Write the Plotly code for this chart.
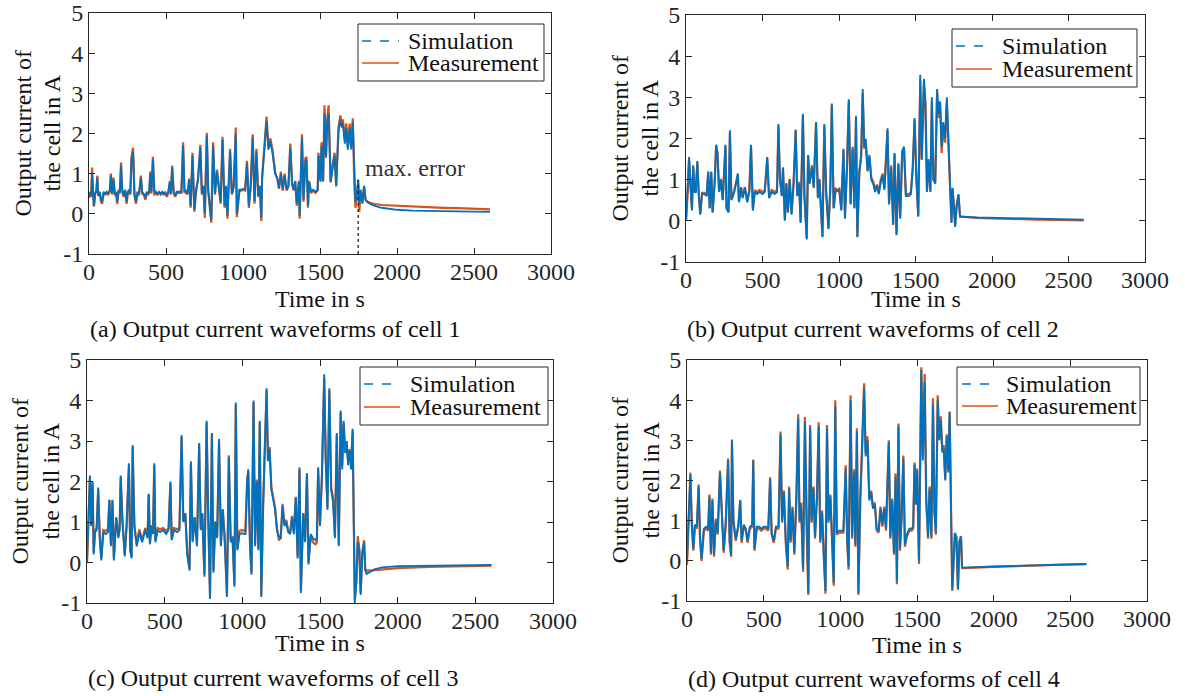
import plotly.graph_objects as go

# ---------------- data ----------------
# Cell 1
t1 = [0, 8, 14, 20, 26, 32, 40, 48, 54, 60,
      70, 78, 85, 95, 105, 115, 125, 135, 142, 150,
      159, 168, 176, 183, 192, 200, 208, 216, 225, 235,
      244, 252, 260, 268, 276, 286, 295, 305, 315, 325,
      337, 345, 355, 366, 375, 385, 392, 398, 405, 415,
      425, 435, 445, 455, 465, 475, 485, 495, 505, 515,
      525, 532, 540, 550, 560, 570, 580, 590, 600, 611,
      620, 628, 635, 642, 650, 660, 672, 684, 696, 708,
      723, 733, 743, 752, 765, 774, 782, 794, 806, 818,
      831, 843, 855, 867, 880, 890, 899, 916, 928, 940,
      953, 960, 977, 990, 1002, 1014, 1026, 1038, 1050, 1063,
      1075, 1087, 1099, 1109, 1119, 1124, 1136, 1153, 1165, 1178,
      1192, 1209, 1222, 1234, 1246, 1258, 1270, 1283, 1295, 1307,
      1319, 1329, 1339, 1349, 1363, 1368, 1383, 1393, 1405, 1412,
      1422, 1429, 1442, 1455, 1470, 1485, 1490, 1503, 1510, 1520,
      1529, 1539, 1547, 1556, 1569, 1576, 1583, 1595, 1605, 1620,
      1632, 1642, 1649, 1661, 1671, 1681, 1693, 1703, 1713, 1722,
      1730, 1740, 1748, 1755, 1764, 1776, 1786, 1796, 1810, 1830,
      1860, 1900, 1950, 2000, 2100, 2200, 2300, 2400, 2500, 2604]
sim1 = [0.40, 0.55, 0.45, 1.00, 0.60, 0.20, 0.50, 0.60, 0.90, 0.45,
        0.55, 0.35, 0.30, 0.55, 0.50, 0.55, 0.50, 0.60, 0.95, 0.50,
        0.85, 0.50, 0.55, 0.30, 0.60, 0.55, 1.20, 0.60, 0.45, 0.60,
        0.30, 0.55, 0.60, 0.50, 1.35, 1.55, 0.50, 0.30, 0.55, 0.50,
        0.90, 0.55, 0.50, 0.40, 0.55, 0.50, 0.60, 1.00, 0.55, 1.35,
        0.50, 0.55, 0.50, 0.55, 0.50, 0.55, 0.50, 0.55, 0.45, 0.55,
        0.78, 0.50, 1.15, 0.55, 0.45, 0.55, 0.55, 0.55, 0.55, 1.70,
        0.55, 0.60, 0.50, 0.55, 0.85, 0.20, 1.45, 0.10, 0.60, 0.85,
        1.65, 0.50, 0.70, 0.00, 1.95, 0.60, 0.30, -0.15, 1.70, 0.50,
        1.05, 0.60, 0.30, 1.85, 0.20, 0.70, -0.05, 1.55, 0.50, 0.70,
        2.00, 0.00, 0.60, 0.60, 0.62, 0.60, 1.25, 0.20, 0.70, 1.90,
        0.30, 1.55, 0.45, 0.70, -0.10, 0.90, 1.55, 2.30, 1.60, 1.80,
        1.50, 1.00, 0.90, 0.65, 1.00, 0.60, 0.95, 0.60, 0.70, 1.65,
        0.75, 0.60, 0.80, 0.25, 0.80, -0.05, 1.90, 0.35, 1.30, 1.35,
        0.20, 0.80, 0.55, 0.60, 0.55, 0.60, 1.45, 0.80, 1.70, 0.80,
        2.50, 1.40, 2.25, 2.50, 0.80, 1.00, 1.20, 1.45, 0.70, 2.05,
        2.35, 2.15, 2.25, 1.75, 2.15, 1.60, 2.15, 1.60, 2.30, 0.90,
        0.30, 0.50, 0.85, 0.25, 0.60, 0.25, 0.70, 0.35, 0.28, 0.24,
        0.19, 0.15, 0.12, 0.10, 0.08, 0.07, 0.065, 0.06, 0.055, 0.05]
meas1 = [0.45, 0.50, 0.42, 1.15, 0.55, 0.18, 0.50, 0.55, 0.95, 0.45,
         0.50, 0.30, 0.25, 0.50, 0.48, 0.50, 0.48, 0.55, 1.00, 0.48,
         0.90, 0.45, 0.50, 0.25, 0.55, 0.50, 1.28, 0.55, 0.42, 0.55,
         0.25, 0.50, 0.55, 0.48, 1.42, 1.65, 0.48, 0.25, 0.50, 0.48,
         0.95, 0.50, 0.48, 0.35, 0.50, 0.48, 0.55, 1.05, 0.50, 1.42,
         0.48, 0.50, 0.48, 0.52, 0.48, 0.52, 0.48, 0.52, 0.42, 0.52,
         0.82, 0.48, 1.20, 0.52, 0.42, 0.52, 0.52, 0.52, 0.52, 1.78,
         0.52, 0.58, 0.48, 0.52, 0.88, 0.15, 1.52, 0.05, 0.58, 0.88,
         1.72, 0.48, 0.68, -0.10, 2.02, 0.58, 0.25, -0.22, 1.78, 0.48,
         1.10, 0.58, 0.25, 1.92, 0.15, 0.68, -0.12, 1.62, 0.48, 0.68,
         2.15, -0.08, 0.58, 0.58, 0.60, 0.58, 1.32, 0.15, 0.68, 1.98,
         0.25, 1.62, 0.42, 0.68, -0.18, 0.88, 1.62, 2.42, 1.68, 1.88,
         1.58, 1.02, 0.88, 0.62, 1.05, 0.58, 1.00, 0.58, 0.68, 1.75,
         0.72, 0.58, 0.82, 0.20, 0.82, -0.12, 1.98, 0.30, 1.38, 1.42,
         0.15, 0.82, 0.52, 0.58, 0.52, 0.58, 1.52, 0.82, 1.78, 0.82,
         2.70, 1.45, 2.35, 2.70, 0.78, 1.05, 1.25, 1.52, 0.68, 2.15,
         2.45, 2.25, 2.35, 1.85, 2.25, 1.65, 2.25, 1.65, 2.38, 0.85,
         0.15, 0.45, 0.80, 0.05, 0.55, 0.30, 0.68, 0.35, 0.30, 0.27,
         0.24, 0.22, 0.21, 0.20, 0.18, 0.17, 0.15, 0.14, 0.125, 0.11]

# Cell 2
t2 = [0, 12, 20, 32, 39, 47, 56, 64, 74, 84,
      93, 105, 120, 135, 145, 155, 165, 174, 187, 197,
      206, 216, 228, 240, 258, 265, 278, 287, 297, 315,
      339, 346, 360, 370, 385, 400, 414, 425, 437, 450,
      465, 480, 500, 515, 531, 543, 560, 580, 595, 604,
      614, 627, 634, 646, 656, 666, 678, 690, 703, 717,
      727, 739, 749, 764, 774, 789, 798, 808, 823, 835,
      850, 862, 872, 892, 904, 916, 931, 943, 953, 965,
      978, 990, 1002, 1015, 1029, 1039, 1052, 1064, 1076, 1089,
      1101, 1111, 1120, 1133, 1145, 1155, 1165, 1174, 1187, 1199,
      1211, 1224, 1236, 1248, 1260, 1273, 1285, 1297, 1317, 1327,
      1341, 1354, 1363, 1376, 1388, 1400, 1413, 1425, 1437, 1455,
      1470, 1482, 1494, 1506, 1518, 1531, 1541, 1555, 1565, 1575,
      1585, 1597, 1607, 1617, 1629, 1641, 1651, 1661, 1671, 1681,
      1693, 1705, 1715, 1727, 1735, 1742, 1751, 1759, 1769, 1781,
      1791, 1800, 1900, 2000, 2150, 2300, 2450, 2600]
sim2 = [0.00, 0.75, 1.55, 0.65, 0.25, 1.35, 0.70, 0.70, 1.45, 0.60,
        0.15, 0.65, 0.65, 0.60, 1.20, 0.30, 1.20, 0.20, 0.90, 1.85,
        1.65, 0.70, 1.00, 0.50, 1.85, 0.30, 0.20, 2.20, 0.50, 0.70,
        1.15, 0.45, 0.80, 0.55, 0.80, 0.45, 0.70, 1.85, 0.25, 0.70,
        0.65, 0.70, 0.65, 0.70, 1.55, 0.55, 0.70, 0.65, 0.70, 2.35,
        1.00, 0.60, 1.30, 0.00, 0.90, 0.20, 1.00, 0.15, 0.90, 2.20,
        0.60, 0.90, -0.05, 2.60, 0.60, -0.45, 1.60, 0.90, 1.30, 0.80,
        2.40, 0.55, 1.00, -0.40, 2.35, 0.70, -0.20, 0.75, 2.85, 0.30,
        0.75, 0.72, 0.75, 0.25, 1.75, 0.05, 1.30, 2.95, 0.40, 1.80,
        0.30, 2.55, -0.40, 1.20, 1.60, 3.20, 1.80, 2.00, 1.20, 1.60,
        1.00, 0.90, 0.70, 0.85, 0.65, 0.95, 1.10, 0.75, 2.25, 0.40,
        1.30, -0.10, 1.65, -0.35, 1.40, 0.05, 1.70, 1.80, 0.60, 0.60,
        0.65, 1.30, 2.50, 1.00, 0.10, 3.55, 1.50, 3.45, 2.90, 0.70,
        1.50, 0.70, 3.00, 1.00, 0.90, 3.20, 2.60, 2.90, 1.80, 2.40,
        2.00, 3.00, 2.00, 0.60, -0.05, 0.80, 0.40, -0.15, 0.35, 0.65,
        0.10, 0.10, 0.08, 0.07, 0.06, 0.05, 0.04, 0.03]
meas2 = [0.00, 0.72, 1.52, 0.68, 0.28, 1.32, 0.72, 0.72, 1.42, 0.62,
         0.18, 0.68, 0.68, 0.62, 1.18, 0.32, 1.18, 0.22, 0.92, 1.82,
         1.62, 0.72, 1.02, 0.52, 1.82, 0.32, 0.22, 2.15, 0.52, 0.72,
         1.12, 0.48, 0.82, 0.58, 0.82, 0.48, 0.75, 1.82, 0.28, 0.75,
         0.70, 0.75, 0.70, 0.75, 1.52, 0.58, 0.75, 0.70, 0.75, 2.30,
         1.02, 0.62, 1.28, 0.02, 0.92, 0.22, 1.02, 0.18, 0.92, 2.22,
         0.62, 0.95, -0.02, 2.55, 0.62, -0.42, 1.58, 0.92, 1.35, 0.82,
         2.40, 0.58, 1.02, -0.38, 2.30, 0.72, -0.18, 0.78, 2.80, 0.32,
         0.78, 0.75, 0.78, 0.28, 1.72, 0.08, 1.28, 2.90, 0.42, 1.75,
         0.32, 2.50, -0.38, 1.18, 1.55, 3.10, 1.75, 1.95, 1.22, 1.55,
         1.05, 0.95, 0.75, 0.88, 0.70, 1.00, 1.15, 0.80, 2.20, 0.42,
         1.35, -0.08, 1.62, -0.32, 1.38, 0.08, 1.65, 1.75, 0.65, 0.65,
         0.70, 1.28, 2.45, 1.02, 0.12, 3.40, 1.48, 3.30, 2.80, 0.72,
         1.45, 0.72, 2.90, 1.02, 0.92, 3.10, 2.50, 2.80, 1.65, 2.25,
         1.90, 2.85, 1.95, 0.62, -0.02, 0.78, 0.42, -0.12, 0.38, 0.62,
         0.12, 0.10, 0.07, 0.06, 0.04, 0.03, 0.02, 0.01]

# Cell 3
t3 = [0, 10, 19, 27, 36, 43, 52, 62, 72, 82,
      92, 105, 120, 135, 144, 154, 164, 173, 188, 202,
      210, 217, 228, 243, 255, 270, 278, 287, 294, 305,
      320, 337, 355, 375, 390, 397, 405, 417, 425, 433,
      440, 455, 470, 490, 510, 525, 537, 545, 560, 580,
      595, 609, 620, 633, 645, 660, 669, 680, 693, 708,
      722, 732, 742, 756, 770, 780, 792, 804, 814, 826,
      838, 850, 862, 874, 886, 901, 913, 925, 937, 949,
      958, 968, 982, 995, 1008, 1020, 1031, 1038, 1050, 1059,
      1072, 1082, 1093, 1103, 1112, 1122, 1134, 1146, 1156, 1165,
      1175, 1187, 1199, 1211, 1223, 1235, 1247, 1259, 1271, 1283,
      1295, 1308, 1320, 1332, 1344, 1356, 1368, 1377, 1392, 1404,
      1416, 1426, 1440, 1455, 1470, 1480, 1488, 1500, 1512, 1527,
      1537, 1548, 1560, 1572, 1584, 1596, 1608, 1621, 1633, 1643,
      1652, 1662, 1671, 1681, 1690, 1700, 1710, 1717, 1724, 1734,
      1743, 1753, 1762, 1772, 1784, 1791, 1800, 1850, 1900, 2000,
      2200, 2400, 2604]
sim3 = [0.00, 1.05, 2.15, 0.90, 2.00, 0.20, 0.75, 0.80, 1.85, 0.60,
        0.05, 0.75, 0.70, 0.75, 1.55, 0.40, 1.55, 0.05, 1.10, 0.60,
        0.80, 2.15, 1.00, 0.15, 0.90, 2.45, 0.30, 0.10, 2.90, 0.90,
        0.40, 0.75, 0.50, 0.80, 0.60, 1.70, 0.45, 0.90, 0.70, 2.45,
        0.50, 0.80, 0.75, 0.80, 0.70, 0.80, 2.00, 0.55, 0.80, 0.75,
        0.80, 3.15, 1.00, 1.20, 0.20, -0.20, 2.50, 0.50, 1.10, 0.40,
        2.95, 0.80, 1.20, -0.35, 3.50, 1.20, -0.90, 3.20, -0.25, 1.00,
        0.60, 3.05, 0.40, 1.30, 0.60, -0.85, 2.60, 0.50, 0.60, -0.60,
        3.95, 0.30, 0.70, 0.72, 0.70, 0.70, 2.00, 2.30, 0.35, -0.30,
        4.00, 0.40, 2.00, 0.30, 3.50, -0.85, 1.40, 2.70, 4.30, 2.50,
        2.80, 1.80, 1.50, 1.30, 0.80, 0.65, 0.60, 1.40, 0.90, 1.00,
        0.75, 0.70, 1.10, 0.70, 1.60, 0.10, 2.35, -0.75, 1.20, 0.50,
        2.20, -0.05, 0.70, 0.60, 0.55, 0.60, 2.35, 0.90, 2.10, 4.65,
        2.50, 1.30, 4.30, 1.80, 1.50, 0.60, 3.20, 0.40, 3.75, 2.30,
        3.50, 2.70, 3.00, 2.40, 2.80, 2.30, 3.30, 0.50, -1.00, -0.50,
        0.50, 0.30, -0.80, 0.20, 0.50, -0.20, -0.28, -0.17, -0.12, -0.09,
        -0.08, -0.07, -0.06]
meas3 = [0.00, 0.95, 2.10, 0.92, 1.95, 0.25, 0.80, 0.85, 1.80, 0.65,
         0.10, 0.80, 0.78, 0.82, 1.55, 0.45, 1.52, 0.10, 1.12, 0.65,
         0.85, 2.10, 1.05, 0.20, 0.92, 2.40, 0.35, 0.15, 2.85, 0.92,
         0.45, 0.82, 0.55, 0.85, 0.65, 1.68, 0.50, 0.92, 0.78, 2.40,
         0.55, 0.85, 0.82, 0.85, 0.78, 0.85, 1.95, 0.60, 0.85, 0.82,
         0.85, 3.10, 1.02, 1.22, 0.25, -0.15, 2.45, 0.55, 1.12, 0.45,
         2.90, 0.85, 1.22, -0.30, 3.45, 1.22, -0.82, 3.18, -0.20, 1.02,
         0.65, 3.00, 0.45, 1.32, 0.65, -0.80, 2.65, 0.55, 0.65, -0.55,
         3.90, 0.35, 0.78, 0.80, 0.78, 0.78, 2.05, 2.25, 0.40, -0.25,
         3.95, 0.45, 2.05, 0.35, 3.45, -0.80, 1.42, 2.75, 4.25, 2.55,
         2.85, 1.85, 1.55, 1.35, 0.85, 0.55, 0.60, 1.45, 0.95, 1.05,
         0.80, 0.75, 1.15, 0.75, 1.62, 0.15, 2.30, -0.70, 1.22, 0.55,
         2.20, 0.00, 0.65, 0.50, 0.45, 0.50, 2.30, 0.95, 2.05, 4.55,
         2.55, 1.35, 4.25, 1.85, 1.60, 0.65, 3.15, 0.45, 3.70, 2.40,
         3.45, 2.75, 3.00, 2.50, 2.75, 2.40, 3.25, 0.60, -0.90, -0.45,
         0.65, 0.35, -0.75, 0.25, 0.55, -0.15, -0.20, -0.19, -0.17, -0.14,
         -0.11, -0.10, -0.08]

# Cell 4
t4 = [0, 10, 22, 31, 41, 52, 64, 76, 85, 95,
      110, 125, 138, 146, 156, 166, 176, 188, 200, 215,
      225, 239, 252, 268, 278, 288, 293, 303, 318, 335,
      347, 356, 370, 384, 395, 410, 425, 432, 440, 455,
      470, 485, 500, 515, 530, 542, 552, 566, 580, 597,
      610, 620, 632, 644, 657, 666, 676, 688, 700, 713,
      725, 734, 744, 757, 769, 779, 791, 803, 813, 825,
      835, 847, 859, 869, 881, 893, 903, 913, 923, 935,
      945, 957, 967, 977, 990, 1005, 1020, 1035, 1045, 1054,
      1067, 1077, 1089, 1098, 1108, 1118, 1130, 1142, 1155, 1165,
      1177, 1189, 1201, 1213, 1225, 1237, 1250, 1262, 1274, 1286,
      1298, 1316, 1326, 1338, 1350, 1360, 1369, 1379, 1389, 1399,
      1411, 1421, 1433, 1450, 1465, 1475, 1484, 1492, 1501, 1513,
      1528, 1538, 1550, 1560, 1572, 1582, 1594, 1604, 1614, 1623,
      1635, 1645, 1655, 1665, 1674, 1684, 1694, 1704, 1713, 1723,
      1730, 1740, 1747, 1757, 1767, 1777, 1787, 1794, 1800, 2000,
      2200, 2400, 2604]
sim4 = [0.00, 1.10, 2.15, 1.00, 0.30, 0.90, 0.85, 1.85, 0.60, 0.05,
        0.80, 0.85, 0.80, 1.60, 0.20, 1.50, 0.15, 1.00, 0.70, 2.20,
        1.20, 0.25, 0.90, 2.50, 0.50, 0.15, 3.00, 1.00, 0.55, 0.90,
        1.50, 0.50, 0.90, 0.80, 0.50, 0.85, 0.90, 2.50, 0.30, 0.85,
        0.85, 0.80, 0.85, 0.85, 0.80, 2.05, 0.70, 0.50, 0.85, 0.85,
        3.15, 1.00, 1.70, 0.50, -0.15, 1.80, 0.50, 1.30, 0.20, 1.50,
        3.55, 1.00, 1.40, -0.20, 3.45, 1.00, -0.80, 3.30, 1.00, 1.80,
        0.60, 1.50, 3.35, 0.50, 1.20, 0.00, -0.75, 3.30, 1.00, 1.60,
        0.50, -0.55, 3.85, 0.70, 0.75, 0.75, 0.75, 2.30, 0.50, -0.15,
        4.00, 0.60, 2.20, 0.40, 3.20, -0.80, 1.50, 2.80, 4.30, 2.60,
        3.00, 1.50, 1.70, 1.30, 1.40, 0.80, 0.75, 1.30, 0.90, 1.30,
        0.80, 2.95, 0.60, 1.50, 0.20, 2.10, -0.50, 3.35, 0.30, 1.00,
        2.55, 0.40, 0.65, 0.80, 0.80, 0.85, 2.40, 1.40, 2.25, 0.00,
        4.75, 2.50, 4.45, 1.50, 0.60, 1.80, 0.60, 3.90, 1.20, 0.70,
        4.00, 3.00, 3.50, 2.70, 2.80, 2.00, 3.10, 2.20, 3.70, 1.00,
        -0.70, 0.10, 0.70, 0.60, -0.70, 0.50, 0.60, -0.15, -0.17, -0.14,
        -0.12, -0.10, -0.08]
meas4 = [-0.10, 1.15, 2.20, 0.95, 0.25, 0.88, 0.80, 1.90, 0.55, 0.00,
         0.75, 0.80, 0.75, 1.65, 0.15, 1.55, 0.10, 1.05, 0.65, 2.25,
         1.25, 0.20, 0.85, 2.55, 0.45, 0.10, 3.02, 0.95, 0.50, 0.85,
         1.52, 0.45, 0.85, 0.75, 0.45, 0.80, 0.85, 2.52, 0.25, 0.80,
         0.80, 0.75, 0.80, 0.80, 0.75, 2.08, 0.65, 0.45, 0.80, 0.80,
         3.22, 0.95, 1.75, 0.45, -0.22, 1.85, 0.45, 1.35, 0.15, 1.55,
         3.65, 0.95, 1.45, -0.28, 3.58, 0.95, -0.85, 3.38, 0.95, 1.85,
         0.55, 1.55, 3.45, 0.45, 1.25, -0.05, -0.82, 3.38, 0.95, 1.65,
         0.45, -0.62, 4.00, 0.65, 0.70, 0.70, 0.70, 2.38, 0.45, -0.22,
         4.12, 0.55, 2.28, 0.35, 3.30, -0.85, 1.55, 2.90, 4.42, 2.70,
         3.10, 1.55, 1.75, 1.35, 1.45, 0.75, 0.70, 1.35, 0.85, 1.35,
         0.75, 3.00, 0.55, 1.55, 0.15, 2.18, -0.58, 3.42, 0.25, 1.05,
         2.62, 0.35, 0.60, 0.75, 0.75, 0.80, 2.45, 1.45, 2.30, -0.08,
         4.82, 2.60, 4.65, 1.55, 0.55, 1.85, 0.55, 4.05, 1.25, 0.65,
         4.12, 3.05, 3.60, 2.75, 2.88, 2.05, 3.15, 2.25, 3.72, 1.05,
         -0.75, 0.05, 0.65, 0.58, -0.72, 0.45, 0.62, -0.18, -0.18, -0.15,
         -0.12, -0.10, -0.08]

# max. error marker in cell 1
max_err_t = [1748, 1748]
max_err_v = [-1, 0.85]

x_ticks = [0, 500, 1000, 1500, 2000, 2500, 3000]
y_ticks = [-1, 0, 1, 2, 3, 4, 5]
x_labels = ["0", "500", "1000", "1500", "2000", "2500", "3000"]
y_labels = ["-1", "0", "1", "2", "3", "4", "5"]
captions = ["(a) Output current waveforms of cell 1",
            "(b) Output current waveforms of cell 2",
            "(c) Output current waveforms of cell 3",
            "(d) Output current waveforms of cell 4"]
series_names = ["Simulation", "Measurement"]
y_title_lines = ["Output current of", "the cell in A"]

# ---------------- layout (pixel geometry) ----------------
W, H = 1185, 696
FONT = "Liberation Serif, Times New Roman, serif"
INK = "#262626"
TXT = "#111111"
BLUE = "#0072BD"
ORANGE = "#D95319"
FS = 24

# axes boxes: left, right, top, bottom (px)
boxes = [(89, 551, 13, 254), (686, 1145, 15, 262),
         (87, 553, 360, 603), (687, 1147, 360, 601)]
# legend boxes: left, right, top, bottom ; sample x0, x1 ; text x ; row ys
legends = [(358, 544, 24, 81, 362, 399, 406, (41, 63)),
           (952, 1137, 29, 87, 956, 992, 1000, (46, 69)),
           (360, 548, 367, 425, 364, 400, 408, (384, 407)),
           (957, 1140, 367, 425, 962, 998, 1004, (384, 406))]
ytitle_x = [(22, 51), (619, 649), (19, 50), (619, 650)]
xtitle_y = [299, 299, 643, 645]
caption_y = [329, 329, 678, 679]

data = [(t1, sim1, meas1), (t2, sim2, meas2), (t3, sim3, meas3), (t4, sim4, meas4)]
for t, s, m in data:
    assert len(t) == len(s) == len(m), (len(t), len(s), len(m))

def px(x):
    return x / W

def py(y):
    return 1 - y / H

fig = go.Figure()
annotations = []
shapes = []
layout = dict(template="none", width=W, height=H,
              margin=dict(l=0, r=0, t=0, b=0, autoexpand=False),
              paper_bgcolor="white", plot_bgcolor="white",
              font=dict(family=FONT, size=FS, color=INK), showlegend=False)

def txt(text, x, y, xanchor="center", angle=0, color=TXT):
    annotations.append(dict(text=text, x=px(x), y=py(y), xref="paper", yref="paper",
                            showarrow=False, xanchor=xanchor, yanchor="middle",
                            textangle=angle,
                            font=dict(family=FONT, size=FS, color=color)))

for i, ((t, s, m), (l, r, tp, bt)) in enumerate(zip(data, boxes)):
    n = "" if i == 0 else str(i + 1)
    xa, ya = "x" + n, "y" + n
    # measurement underneath, simulation drawn on top
    fig.add_trace(go.Scatter(x=t, y=m, mode="lines", name=series_names[1],
                             line=dict(color=ORANGE, width=2.2),
                             xaxis=xa, yaxis=ya))
    fig.add_trace(go.Scatter(x=t, y=s, mode="lines", name=series_names[0],
                             line=dict(color=BLUE, width=1.9),
                             xaxis=xa, yaxis=ya))
    axis_common = dict(showline=True, linecolor=INK, linewidth=1, mirror="ticks",
                       ticks="inside", ticklen=6, tickcolor=INK, tickwidth=1,
                       showgrid=False, zeroline=False, automargin=False,
                       tickfont=dict(family=FONT, size=FS, color=INK))
    layout["xaxis" + n] = dict(axis_common, domain=[px(l), px(r)], anchor=ya,
                               range=[0, 3000], tickmode="array",
                               tickvals=x_ticks, ticktext=x_labels,
                               ticklabelstandoff=-4)
    layout["yaxis" + n] = dict(axis_common, domain=[py(bt), py(tp)], anchor=xa,
                               range=[-1, 5], tickmode="array",
                               tickvals=y_ticks, ticktext=y_labels)

    # legend box (drawn as shapes + text)
    bl, br, bt_, bb, sx0, sx1, tx, rows = legends[i]
    shapes.append(dict(type="rect", xref="paper", yref="paper",
                       x0=px(bl), x1=px(br), y0=py(bb), y1=py(bt_),
                       line=dict(color=INK, width=1), fillcolor="white",
                       layer="above"))
    shapes.append(dict(type="line", xref="paper", yref="paper",
                       x0=px(sx0), x1=px(sx1), y0=py(rows[0]), y1=py(rows[0]),
                       line=dict(color=BLUE, width=1.6, dash="dash"), layer="above"))
    shapes.append(dict(type="line", xref="paper", yref="paper",
                       x0=px(sx0), x1=px(sx1), y0=py(rows[1]), y1=py(rows[1]),
                       line=dict(color=ORANGE, width=1.6), layer="above"))
    txt(series_names[0], tx, rows[0], xanchor="left")
    txt(series_names[1], tx, rows[1], xanchor="left")

    # y-axis title (two lines), x-axis title, caption
    txt(y_title_lines[0], ytitle_x[i][0], (tp + bt) / 2, angle=-90)
    txt(y_title_lines[1], ytitle_x[i][1], (tp + bt) / 2, angle=-90)
    txt("Time in s", (l + r) / 2, xtitle_y[i])
    txt(captions[i], l - 1, caption_y[i], xanchor="left")

# max. error marker (cell 1)
fig.add_trace(go.Scatter(x=max_err_t, y=max_err_v, mode="lines", showlegend=False,
                         line=dict(color="#222", width=1.3, dash="dot"),
                         xaxis="x", yaxis="y"))
txt("max. error", 363, 168, xanchor="left", color="#333")

layout["annotations"] = annotations
layout["shapes"] = shapes
fig.update_layout(**layout)
fig.write_html("out.html", config={"displayModeBar": False},
               post_script="document.body.style.margin='0px';")
